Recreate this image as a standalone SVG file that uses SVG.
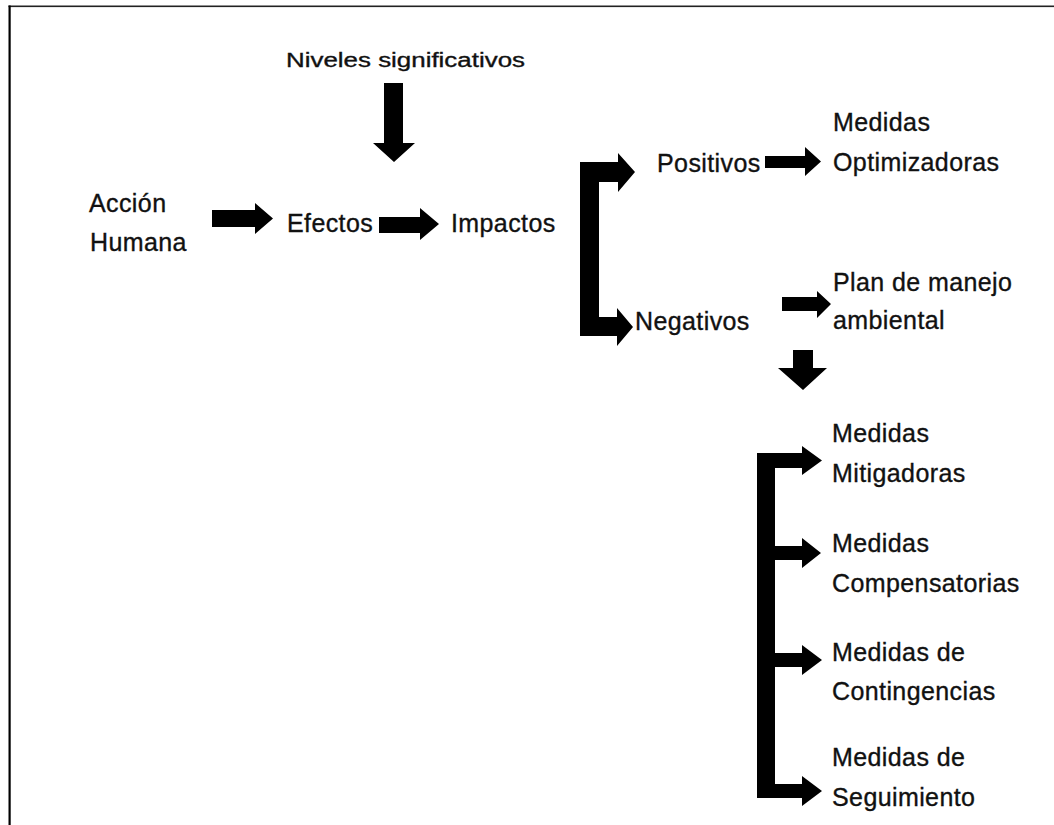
<svg xmlns="http://www.w3.org/2000/svg" width="1054" height="825" viewBox="0 0 1054 825">
<style>
  .t { font-family: "Liberation Sans", Arial, sans-serif; font-size: 25px; letter-spacing: 0.4px; fill: #111; stroke: #111; stroke-width: 0.35px; }
  .n { font-family: "Liberation Sans", Arial, sans-serif; font-size: 20px; fill: #111; stroke: #111; stroke-width: 0.35px; }
  .a { fill: #000; }
</style>
<rect x="0" y="0" width="1054" height="825" fill="#fff"/>
<g id="frame">
  <rect x="8.5" y="5.5" width="1045.5" height="1.6" fill="#222"/>
  <rect x="8.5" y="5.5" width="2.2" height="819.5" fill="#000"/>
</g>
<g id="connectors">
  <path class="a" d="M384,83 L403,83 L403,143 L415,143 L394,162 L373,143 L384,143 Z"/>
  <path class="a" d="M212,210 L255,210 L255,203 L273,218.5 L255,234 L255,227 L212,227 Z"/>
  <path class="a" d="M379,217 L420,217 L420,208 L439,224 L420,240 L420,233 L379,233 Z"/>
  <path class="a" d="M580,162 L618,162 L618,153 L635,172 L618,192 L618,182 L599,182 L599,317 L617,317 L617,308 L633,327 L617,346 L617,336 L580,336 Z"/>
  <path class="a" d="M765,156 L805,156 L805,147 L821,161.5 L805,176 L805,168 L765,168 Z"/>
  <path class="a" d="M782,297 L817,297 L817,291 L831,304 L817,318 L817,311 L782,311 Z"/>
  <path class="a" d="M793,350 L813,350 L813,368 L827,368 L803,390 L778,368 L793,368 Z"/>
  <path class="a" d="M757,453 L802,453 L802,446 L822,460.5 L802,475 L802,468 L775,468 L775,546 L802,546 L802,538 L821,553 L802,568 L802,560 L775,560 L775,653 L802,653 L802,645 L822,660 L802,675 L802,667 L775,667 L775,784 L802,784 L802,776 L822,791 L802,806 L802,798 L757,798 Z"/>
</g>
<g id="niveles"><text class="n" x="286" y="67" textLength="239" lengthAdjust="spacingAndGlyphs">Niveles significativos</text></g>
<g id="accion"><text class="t" x="89" y="212">Acción</text><text class="t" x="90" y="251">Humana</text></g>
<g id="efectos"><text class="t" x="287" y="232">Efectos</text></g>
<g id="impactos"><text class="t" x="451" y="232">Impactos</text></g>
<g id="positivos"><text class="t" x="657" y="172">Positivos</text></g>
<g id="negativos"><text class="t" x="635" y="330">Negativos</text></g>
<g id="optimizadoras"><text class="t" x="833" y="131">Medidas</text><text class="t" x="833" y="171">Optimizadoras</text></g>
<g id="plan"><text class="t" x="833" y="291">Plan de manejo</text><text class="t" x="833" y="329">ambiental</text></g>
<g id="mitigadoras"><text class="t" x="832" y="442">Medidas</text><text class="t" x="832" y="482">Mitigadoras</text></g>
<g id="compensatorias"><text class="t" x="832" y="552">Medidas</text><text class="t" x="832" y="592">Compensatorias</text></g>
<g id="contingencias"><text class="t" x="832" y="661">Medidas de</text><text class="t" x="832" y="700">Contingencias</text></g>
<g id="seguimiento"><text class="t" x="832" y="766">Medidas de</text><text class="t" x="832" y="806">Seguimiento</text></g>
</svg>
